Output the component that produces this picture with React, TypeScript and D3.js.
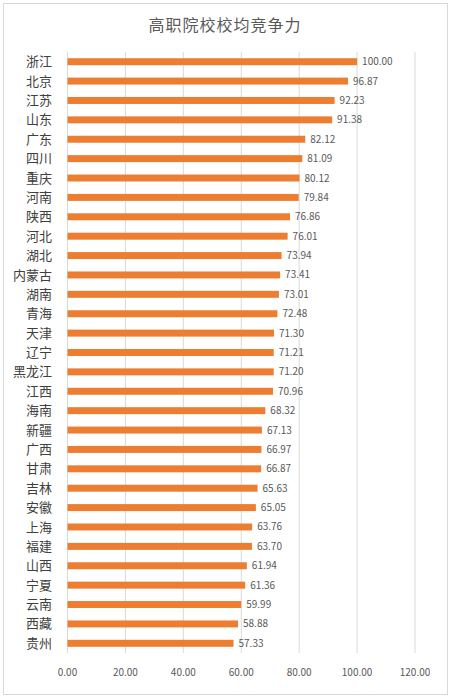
import React from "react";
import * as d3 from "d3";

const provinces = ["浙江","北京","江苏","山东","广东","四川","重庆","河南","陕西","河北","湖北","内蒙古","湖南","青海","天津","辽宁","黑龙江","江西","海南","新疆","广西","甘肃","吉林","安徽","上海","福建","山西","宁夏","云南","西藏","贵州"];
const scores = [100.00,96.87,92.23,91.38,82.12,81.09,80.12,79.84,76.86,76.01,73.94,73.41,73.01,72.48,71.30,71.21,71.20,70.96,68.32,67.13,66.97,66.87,65.63,65.05,63.76,63.70,61.94,61.36,59.99,58.88,57.33];
const xTicks = [0,20,40,60,80,100,120];
const title = "高职院校校均竞争力";

const W = 451, H = 698;
const FONT = "'Noto Sans CJK SC', 'Noto Sans', sans-serif";

export default function App() {
  const x = d3.scaleLinear().domain([0, 120]).range([67.5, 415]);
  const y = d3.scaleBand<string>().domain(provinces).range([52, 653]).paddingInner(0.64).paddingOuter(0.32);
  return (
    <svg width={W} height={H} style={{ position: "absolute", left: 0, top: 0, background: "#fff" }}>
      <rect x={3.5} y={3.5} width={444} height={691} fill="#fff" stroke="#d9d9d9" />
      <text x={225} y={31} textAnchor="middle" fontFamily={FONT} fontSize={16} fill="#595959" letterSpacing={1}>{title}</text>
      {xTicks.map(t => (
        <g key={t}>
          <line x1={x(t)} x2={x(t)} y1={52} y2={653} stroke="#d9d9d9" strokeWidth={1} />
          <text x={x(t)} y={676} textAnchor="middle" fontFamily={FONT} fontSize={10} fill="#595959">{t.toFixed(2)}</text>
        </g>
      ))}
      {provinces.map((p, i) => {
        const yy = y(p)!;
        const bw = y.bandwidth();
        const cy = yy + bw / 2;
        return (
          <g key={p}>
            <rect x={x(0)} y={yy} width={x(scores[i]) - x(0)} height={bw} fill="#ED7D31" />
            <text x={52} y={cy} dy="0.35em" textAnchor="end" fontFamily={FONT} fontSize={13} fill="#404040">{p}</text>
            <text x={x(scores[i]) + 5} y={cy} dy="0.35em" textAnchor="start" fontFamily={FONT} fontSize={10} fill="#595959">{scores[i].toFixed(2)}</text>
          </g>
        );
      })}
    </svg>
  );
}
